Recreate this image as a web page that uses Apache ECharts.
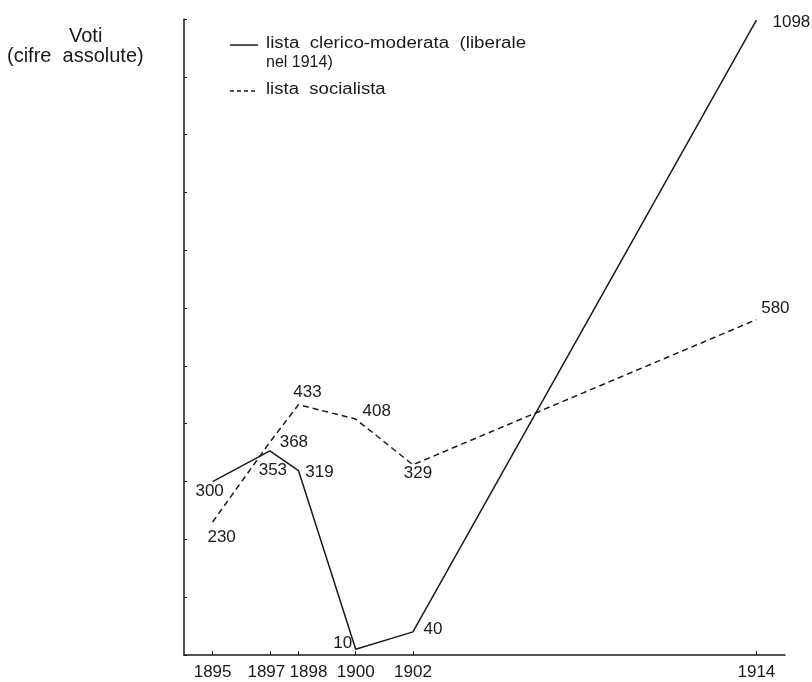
<!DOCTYPE html>
<html>
<head>
<meta charset="utf-8">
<script src="https://cdn.jsdelivr.net/npm/echarts@6/dist/echarts.min.js"></script>
<style>
html, body { margin: 0; padding: 0; background: #fff; }
#main { width: 812px; height: 682px; }
</style>
</head>
<body>
<div id="main"></div>
<script>
// anni delle elezioni e voti (cifre assolute)
var anni = [1895, 1897, 1898, 1900, 1902, 1914];
var clericoModerata = [300, 353, 319, 10, 40, 1098];
var socialista = [230, 368, 433, 408, 329, 580];
var nomeClerico = ['lista  clerico-moderata  (liberale', 'nel 1914)'];
var nomeSocialista = 'lista  socialista';
var titoloAsse = ['Voti', '(cifre  assolute)'];

// spostamento delle etichette rispetto al punto (solo impaginazione)
var spostClerico = [[-3, 10], [3, 19], [21, 2], [-13, -6], [20, -3], [35, 2]];
var spostSocialista = [[9, 15], [24, 0], [9, -12], [21, -8], [5, 9], [19, -11]];

var font = '"Liberation Sans", Arial, sans-serif';
var ink = '#1a1a1a';

function punti(valori, spost) {
	var d = [];
	for (var i = 0; i < anni.length; i++) {
		d.push({
			value: [anni[i], valori[i]],
			label: { offset: spost[i] }
		});
	}
	return d;
}

var etichetta = {
	show: true,
	position: 'inside',
	color: ink,
	fontFamily: font,
	fontSize: 17,
	formatter: function (p) { return p.value[1]; }
};

var myChart = echarts.init(document.getElementById('main'));
var option = {
	backgroundColor: '#fff',
	animation: false,
	grid: { left: 184, right: 27, top: 19, bottom: 27, containLabel: false },
	xAxis: {
		type: 'value',
		min: 1894,
		max: 1915,
		splitLine: { show: false },
		axisLine: { show: true, onZero: false, lineStyle: { color: ink, width: 1.5 } },
		axisTick: { show: true, inside: true, length: 4, customValues: anni, lineStyle: { color: ink } },
		axisLabel: {
			customValues: anni,
			color: ink, fontFamily: font, fontSize: 17, margin: 9,
			// 1897 e 1898 sono scostati per non sovrapporsi
			formatter: function (v) {
				if (v === 1897) return '{l|' + v + '}';
				if (v === 1898) return '{r|' + v + '}';
				return String(v);
			},
			rich: {
				l: { color: ink, fontFamily: font, fontSize: 17, padding: [0, 7, 0, 0] },
				r: { color: ink, fontFamily: font, fontSize: 17, padding: [0, 0, 0, 20] }
			}
		}
	},
	yAxis: {
		type: 'value',
		min: 0,
		max: 1100,
		interval: 100,
		splitLine: { show: false },
		axisLine: { show: true, lineStyle: { color: ink, width: 1.5 } },
		axisTick: { show: true, inside: true, length: 3, lineStyle: { color: ink } },
		axisLabel: { show: false }
	},
	series: [
		{
			name: nomeClerico.join(' '),
			type: 'line',
			data: punti(clericoModerata, spostClerico),
			symbol: 'circle',
			symbolSize: 1,
			itemStyle: { color: 'rgba(0,0,0,0)' },
			lineStyle: { color: ink, width: 1.5, type: 'solid' },
			label: etichetta
		},
		{
			name: nomeSocialista,
			type: 'line',
			data: punti(socialista, spostSocialista),
			symbol: 'circle',
			symbolSize: 1,
			itemStyle: { color: 'rgba(0,0,0,0)' },
			lineStyle: { color: ink, width: 1.5, type: [6, 4] },
			label: etichetta
		}
	],
	graphic: [
		{ type: 'text', x: 69, y: 26, style: { text: titoloAsse[0], font: '20px ' + font, fill: ink } },
		{ type: 'text', x: 7, y: 46, style: { text: titoloAsse[1], font: '20px ' + font, fill: ink } },
		{ type: 'line', shape: { x1: 230, y1: 45, x2: 258, y2: 45 }, style: { stroke: ink, lineWidth: 1.5 } },
		{ type: 'text', x: 266, y: 36, scaleX: 1.17, style: { text: nomeClerico[0], font: '16px ' + font, fill: ink } },
		{ type: 'text', x: 266, y: 55, style: { text: nomeClerico[1], font: '16px ' + font, fill: ink } },
		{ type: 'line', shape: { x1: 230, y1: 91, x2: 258, y2: 91 }, style: { stroke: ink, lineWidth: 1.5, lineDash: [4, 3] } },
		{ type: 'text', x: 266, y: 82, scaleX: 1.16, style: { text: nomeSocialista, font: '16px ' + font, fill: ink } }
	]
};
myChart.setOption(option);
</script>
</body>
</html>
